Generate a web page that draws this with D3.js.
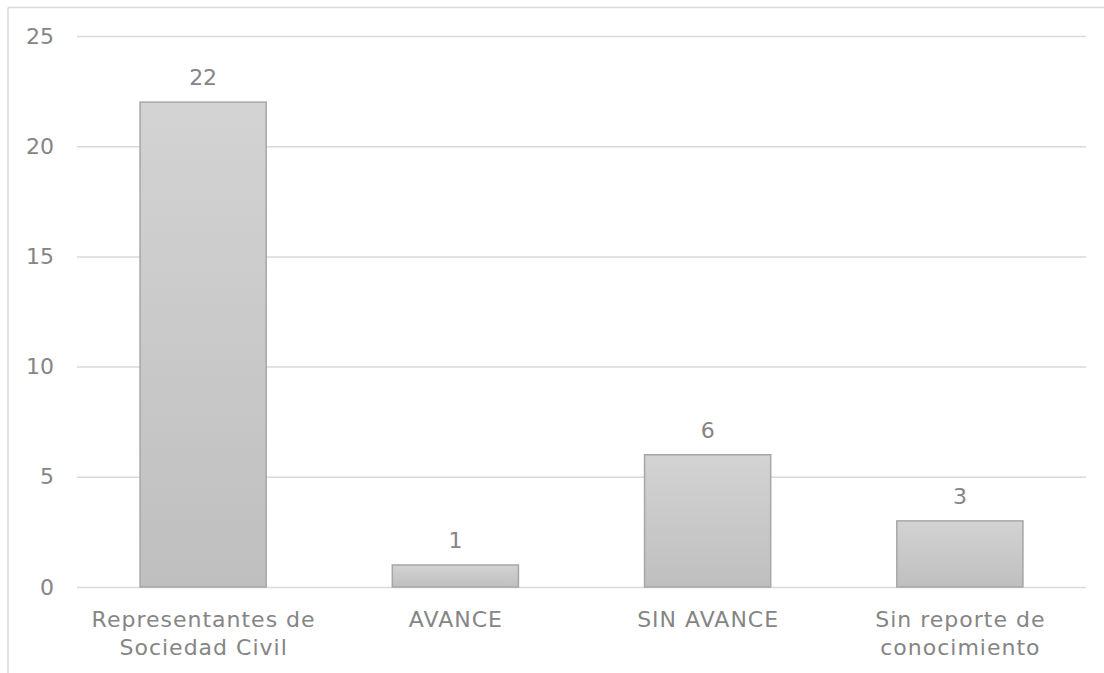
<!DOCTYPE html>
<html><head><meta charset="utf-8">
<script src="https://cdn.jsdelivr.net/npm/d3@7"></script>
<style>body{margin:0;background:#fff;} svg{display:block;}</style>
</head><body>
<svg id="c" width="1104" height="673"></svg>
<script>
const categories = [["Representantes de","Sociedad Civil"],["AVANCE"],["SIN AVANCE"],["Sin reporte de","conocimiento"]];
const values = [22, 1, 6, 3];
const yTicks = [0, 5, 10, 15, 20, 25];

const W = 1104, H = 673;
const m = {left: 77, right: 1086, top: 36, bottom: 587};
const svg = d3.select("#c");
const font = "'DejaVu Sans', sans-serif";
const txt = "#858585";

// frame
svg.append("line").attr("x1", 8).attr("x2", W).attr("y1", 7.5).attr("y2", 7.5).attr("stroke", "#d9d9d9").attr("stroke-width", 1.5);
svg.append("line").attr("x1", 8).attr("x2", 8).attr("y1", 7.5).attr("y2", H).attr("stroke", "#d9d9d9").attr("stroke-width", 1.5);

const idx = categories.map((d, i) => i);
const x = d3.scaleBand().domain(idx).range([m.left, m.right]).paddingInner(0.5).paddingOuter(0.25);
const y = d3.scaleLinear().domain([0, 25]).range([m.bottom, m.top]);

const defs = svg.append("defs");
const g = defs.append("linearGradient").attr("id", "bg").attr("x1", 0).attr("x2", 0).attr("y1", 0).attr("y2", 1);
g.append("stop").attr("offset", "0%").attr("stop-color", "#d3d3d3");
g.append("stop").attr("offset", "100%").attr("stop-color", "#bfbfbf");

// grid
const ya = d3.axisLeft(y).tickValues(yTicks).tickSize(-(m.right - m.left)).tickPadding(23).tickFormat(d3.format("d"));
const gy = svg.append("g").attr("transform", `translate(${m.left},0)`).call(ya);
gy.select(".domain").remove();
gy.selectAll(".tick line").attr("stroke", "#d9d9d9").attr("stroke-width", 1.5);
gy.selectAll(".tick text").attr("fill", txt).style("font-family", font).style("font-size", "22px");

// bars
svg.selectAll("rect.bar").data(values).join("rect").attr("class", "bar")
  .attr("x", (d, i) => x(i)).attr("width", x.bandwidth())
  .attr("y", d => y(d)).attr("height", d => y(0) - y(d))
  .attr("fill", "url(#bg)").attr("stroke", "#a6a6a6").attr("stroke-width", 1.5);

// value labels
svg.selectAll("text.val").data(values).join("text").attr("class", "val")
  .attr("x", (d, i) => x(i) + x.bandwidth() / 2).attr("y", d => y(d) - 17)
  .attr("text-anchor", "middle").attr("fill", txt).style("font-family", font).style("font-size", "22px")
  .text(d => d);

// category labels
const xl = svg.selectAll("text.cat").data(categories).join("text").attr("class", "cat")
  .attr("text-anchor", "middle").attr("fill", txt).style("font-family", font).style("font-size", "22px")
  .style("letter-spacing", "1px");
xl.each(function(d, i) {
  const t = d3.select(this);
  d.forEach((line, j) => {
    t.append("tspan").attr("x", x(i) + x.bandwidth() / 2 + 0.5).attr("y", 627 + j * 28).text(line);
  });
});
</script>
</body></html>
